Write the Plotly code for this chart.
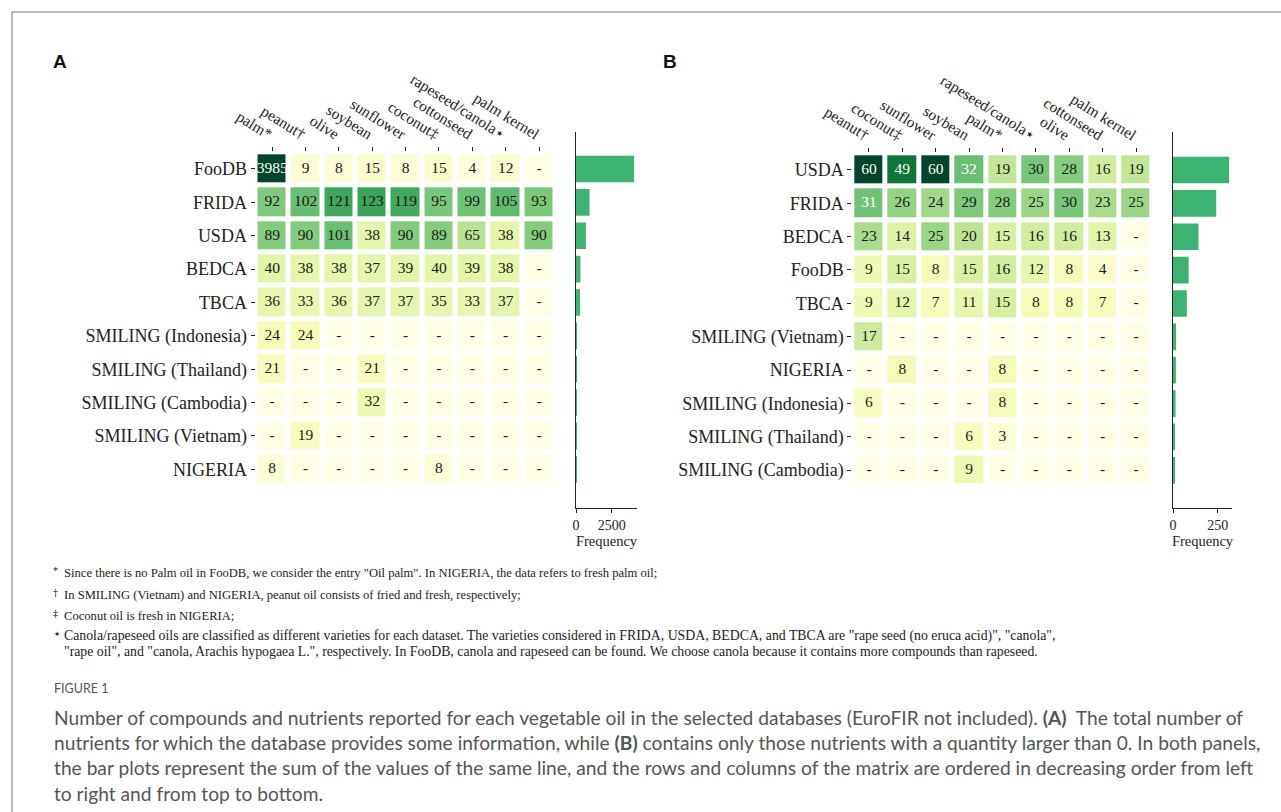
import plotly.graph_objects as go

W, H = 1281, 812

# ---------------- data ----------------
rows_a = ["FooDB", "FRIDA", "USDA", "BEDCA", "TBCA", "SMILING (Indonesia)",
          "SMILING (Thailand)", "SMILING (Cambodia)", "SMILING (Vietnam)", "NIGERIA"]
cols_a = ["palm*", "peanut†", "olive", "soybean", "sunflower", "coconut‡",
          "cottonseed", "rapeseed/canola⋆", "palm kernel"]
vals_a = [
    [3985, 9, 8, 15, 8, 15, 4, 12, 0],
    [92, 102, 121, 123, 119, 95, 99, 105, 93],
    [89, 90, 101, 38, 90, 89, 65, 38, 90],
    [40, 38, 38, 37, 39, 40, 39, 38, 0],
    [36, 33, 36, 37, 37, 35, 33, 37, 0],
    [24, 24, 0, 0, 0, 0, 0, 0, 0],
    [21, 0, 0, 21, 0, 0, 0, 0, 0],
    [0, 0, 0, 32, 0, 0, 0, 0, 0],
    [0, 19, 0, 0, 0, 0, 0, 0, 0],
    [8, 0, 0, 0, 0, 8, 0, 0, 0],
]
totals_a = [4056, 949, 690, 309, 284, 48, 42, 32, 19, 16]

rows_b = ["USDA", "FRIDA", "BEDCA", "FooDB", "TBCA", "SMILING (Vietnam)",
          "NIGERIA", "SMILING (Indonesia)", "SMILING (Thailand)", "SMILING (Cambodia)"]
cols_b = ["peanut†", "coconut‡", "sunflower", "soybean", "palm*",
          "rapeseed/canola⋆", "olive", "cottonseed", "palm kernel"]
vals_b = [
    [60, 49, 60, 32, 19, 30, 28, 16, 19],
    [31, 26, 24, 29, 28, 25, 30, 23, 25],
    [23, 14, 25, 20, 15, 16, 16, 13, 0],
    [9, 15, 8, 15, 16, 12, 8, 4, 0],
    [9, 12, 7, 11, 15, 8, 8, 7, 0],
    [17, 0, 0, 0, 0, 0, 0, 0, 0],
    [0, 8, 0, 0, 8, 0, 0, 0, 0],
    [6, 0, 0, 0, 8, 0, 0, 0, 0],
    [0, 0, 0, 6, 3, 0, 0, 0, 0],
    [0, 0, 0, 9, 0, 0, 0, 0, 0],
]
totals_b = [313, 241, 142, 87, 77, 17, 16, 14, 9, 9]

bar_ticks_a = [0, 2500]
bar_ticks_b = [0, 250]

footnotes = [
    ("*", 'Since there is no Palm oil in FooDB, we consider the entry "Oil palm". In NIGERIA, the data refers to fresh palm oil;'),
    ("†", "In SMILING (Vietnam) and NIGERIA, peanut oil consists of fried and fresh, respectively;"),
    ("‡", "Coconut oil is fresh in NIGERIA;"),
    ("⋆", 'Canola/rapeseed oils are classified as different varieties for each dataset. The varieties considered in FRIDA, USDA, BEDCA, and TBCA are "rape seed (no eruca acid)", "canola",'),
    ("", '"rape oil", and "canola, Arachis hypogaea L.", respectively. In FooDB, canola and rapeseed can be found. We choose canola because it contains more compounds than rapeseed.'),
]
caption_lines = [
    "Number of compounds and nutrients reported for each vegetable oil in the selected databases (EuroFIR not included). <b>(A)</b>  The total number of",
    "nutrients for which the database provides some information, while <b>(B)</b> contains only those nutrients with a quantity larger than 0. In both panels,",
    "the bar plots represent the sum of the values of the same line, and the rows and columns of the matrix are ordered in decreasing order from left",
    "to right and from top to bottom.",
]

# ---------------- styling ----------------
SERIF = "Liberation Serif, Times New Roman, serif"
BAR_COLOR = "#3cb371"
YLGN = [[0.0, "#ffffe5"], [0.125, "#f7fcb9"], [0.25, "#d9f0a3"], [0.375, "#addd8e"],
        [0.5, "#78c679"], [0.625, "#41ab5d"], [0.75, "#238443"], [0.875, "#006837"],
        [1.0, "#004529"]]


def px_x(p):
    return p / W


def px_y(p):
    return 1 - p / H


fig = go.Figure()


def add_panel(rows, cols, vals, totals, zmax, white_thr, hx, hy, bx, by, bar_range,
              bar_ticks, bar_yrange, ax_ids):
    hxid, hyid, bxid, byid = ax_ids
    text = [["-" if v == 0 else str(v) for v in r] for r in vals]
    fig.add_trace(go.Heatmap(
        z=vals, x=cols, y=rows, colorscale=YLGN, zmin=0, zmax=zmax,
        showscale=False, xgap=5, ygap=5, hoverinfo="skip",
        xaxis="x" + hxid, yaxis="y" + hyid))
    tx, ty, tt, tc = [], [], [], []
    for i, r in enumerate(rows):
        for j, c in enumerate(cols):
            tx.append(c)
            ty.append(r)
            tt.append(text[i][j])
            tc.append("white" if vals[i][j] >= white_thr else "#1a1a1a")
    fig.add_trace(go.Scatter(
        x=tx, y=ty, text=tt, mode="text", textfont=dict(family=SERIF, size=15.5, color=tc),
        hoverinfo="skip", showlegend=False, xaxis="x" + hxid, yaxis="y" + hyid))
    fig.add_trace(go.Bar(
        x=totals, y=list(range(len(rows))), orientation="h", width=0.8,
        marker=dict(color=BAR_COLOR, line=dict(width=0)), showlegend=False,
        hoverinfo="skip", xaxis="x" + bxid, yaxis="y" + byid))

    lay = {}
    lay["xaxis" + hxid] = dict(
        domain=[px_x(hx[0]), px_x(hx[1])], anchor="y" + hyid, side="top",
        type="category", categoryorder="array", categoryarray=cols,
        range=[-0.5, len(cols) - 0.5], automargin=False,
        ticks="outside", ticklen=4, tickwidth=1, tickcolor="#222",
        tickangle=32, tickfont=dict(family=SERIF, size=15.5, color="#222"),
        showgrid=False, zeroline=False, showline=False, fixedrange=True)
    lay["yaxis" + hyid] = dict(
        domain=[px_y(hy[1]), px_y(hy[0])], anchor="x" + hxid,
        type="category", categoryorder="array", categoryarray=rows,
        range=[len(rows) - 0.5, -0.5], automargin=False,
        ticks="outside", ticklen=4, tickwidth=1, tickcolor="#222",
        tickfont=dict(family=SERIF, size=18, color="#222"),
        showgrid=False, zeroline=False, showline=False, fixedrange=True)
    lay["xaxis" + bxid] = dict(
        domain=[px_x(bx[0]), px_x(bx[1])], anchor="y" + byid,
        range=bar_range, tickvals=bar_ticks, ticktext=[str(t) for t in bar_ticks],
        ticks="outside", ticklen=4, tickwidth=1, tickcolor="#222",
        tickfont=dict(family=SERIF, size=14, color="#222"), automargin=False,
        showline=True, linecolor="#222", linewidth=1.2, mirror=False,
        showgrid=False, zeroline=False,
        title=dict(text="Frequency", font=dict(family=SERIF, size=14.5, color="#222"),
                   standoff=4),
        fixedrange=True)
    lay["yaxis" + byid] = dict(
        domain=[px_y(by[1]), px_y(by[0])], anchor="x" + bxid,
        range=bar_yrange, showticklabels=False, ticks="", automargin=False,
        showline=True, linecolor="#222", linewidth=1.2,
        showgrid=False, zeroline=False, fixedrange=True)
    fig.update_layout(**lay)


add_panel(rows_a, cols_a, vals_a, totals_a, zmax=190, white_thr=1000,
          hx=(255.5, 555.7), hy=(152.3, 486.0), bx=(576, 637), by=(131.5, 507.7),
          bar_range=[0, 4259], bar_ticks=bar_ticks_a, bar_yrange=[10.15, -1.124],
          ax_ids=("", "", "2", "2"))
add_panel(rows_b, cols_b, vals_b, totals_b, zmax=60, white_thr=31,
          hx=(852.3, 1152.7), hy=(153.3, 486.7), bx=(1173, 1232), by=(131.5, 507.7),
          bar_range=[0, 329], bar_ticks=bar_ticks_b, bar_yrange=[10.12, -1.154],
          ax_ids=("3", "3", "4", "4"))

ann = []
ann.append(dict(text="<b>A</b>", x=px_x(51), y=px_y(62), xref="paper", yref="paper",
                xanchor="left", yanchor="middle", showarrow=False,
                font=dict(family="Liberation Sans, Arial, sans-serif", size=19, color="#111")))
ann.append(dict(text="<b>B</b>", x=px_x(661), y=px_y(62), xref="paper", yref="paper",
                xanchor="left", yanchor="middle", showarrow=False,
                font=dict(family="Liberation Sans, Arial, sans-serif", size=19, color="#111")))

fn_y = [573, 595, 616, 636, 651]
fn_size = [12.6, 12.6, 12.6, 13.8, 13.8]
sym_size = {"*": 10, "†": 10, "‡": 10, "⋆": 13}
for (sym, txt), yy, fs in zip(footnotes, fn_y, fn_size):
    if sym:
        ann.append(dict(text=sym, x=px_x(51), y=px_y(yy - 3), xref="paper", yref="paper",
                        xanchor="left", yanchor="middle", showarrow=False,
                        font=dict(family="DejaVu Serif, serif", size=sym_size[sym], color="#222")))
    ann.append(dict(text=txt, x=px_x(62), y=px_y(yy), xref="paper", yref="paper",
                    xanchor="left", yanchor="middle", showarrow=False,
                    font=dict(family=SERIF, size=fs, color="#222")))

ann.append(dict(text="FIGURE 1", x=px_x(52), y=px_y(688), xref="paper", yref="paper",
                xanchor="left", yanchor="middle", showarrow=False,
                font=dict(family="Lato, Open Sans, sans-serif", size=12.5, color="#555")))
cap_y = [717, 742, 767, 793]
for line, yy in zip(caption_lines, cap_y):
    ann.append(dict(text=line, x=px_x(52), y=px_y(yy), xref="paper", yref="paper",
                    xanchor="left", yanchor="middle", showarrow=False,
                    font=dict(family="Lato, Open Sans, sans-serif", size=19.2, color="#555")))

shapes = [
    dict(type="line", xref="paper", yref="paper", x0=px_x(12), x1=1.0, y0=px_y(12), y1=px_y(12),
         line=dict(color="#777", width=1)),
    dict(type="line", xref="paper", yref="paper", x0=px_x(12), x1=px_x(12), y0=px_y(12), y1=0,
         line=dict(color="#777", width=1)),
]

fig.update_layout(
    width=W, height=H, margin=dict(l=0, r=0, t=0, b=0, autoexpand=False),
    paper_bgcolor="white", plot_bgcolor="white", showlegend=False,
    annotations=ann, shapes=shapes, bargap=0.2,
)

fig.write_html("out.html", config={"displayModeBar": False})
